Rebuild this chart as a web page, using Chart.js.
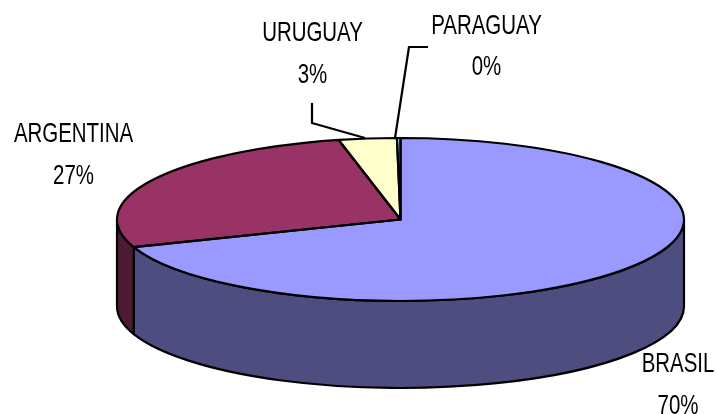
<!DOCTYPE html>
<html>
<head>
<meta charset="utf-8">
<style>html,body{margin:0;padding:0;background:#fff}canvas{display:block}</style>
<script src="https://cdn.jsdelivr.net/npm/chart.js@4"></script>
</head>
<body>
<canvas id="c" width="716" height="414"></canvas>
<script>
const categories = ['BRASIL', 'ARGENTINA', 'URUGUAY', 'PARAGUAY'];
const shares = [69.5, 27.0, 3.3, 0.2];
const topColors = ['#9999FF', '#993366', '#FFFFCC', '#CCFFFF'];
const wallColors = ['#4D4D80', '#4D1A33', '#808066', '#668080'];
const labelSpots = [[678, 372, 414], [73.5, 142, 184], [312.5, 41, 83], [486.5, 34, 75]];
const leaders = [[[312, 103], [312, 123], [365, 138]], [[428, 47], [409, 47], [395, 138]]];

const cx = 400.5, cy = 219.5, rx = 283.5, ry = 81.5, depth = 87;
const ink = '#000';

const pie3d = {
  id: 'pie3d',
  beforeDatasetsDraw(chart) {
    const ctx = chart.ctx, arcs = chart.getDatasetMeta(0).data;
    ctx.save();
    ctx.lineWidth = 2.2; ctx.lineJoin = 'round'; ctx.strokeStyle = ink;
    const two = Math.PI * 2;
    arcs.forEach((arc, i) => {
      const s = ((arc.startAngle % two) + two) % two, e = s + (arc.endAngle - arc.startAngle);
      [0, two].forEach(off => {
        const a = Math.max(s, off), b = Math.min(e, off + Math.PI);
        if (b <= a) return;
        ctx.beginPath();
        ctx.ellipse(cx, cy, rx, ry, 0, a, b);
        ctx.ellipse(cx, cy + depth, rx, ry, 0, b, a, true);
        ctx.closePath();
        ctx.fillStyle = wallColors[i];
        ctx.fill();
        ctx.stroke();
      });
    });
    ctx.restore();
    const r = arcs[0].outerRadius;
    ctx.save();
    ctx.translate(cx, cy);
    ctx.scale(rx / r, ry / r);
    ctx.translate(-arcs[0].x, -arcs[0].y);
  },
  afterDatasetsDraw(chart) {
    const ctx = chart.ctx, arcs = chart.getDatasetMeta(0).data;
    ctx.restore();
    ctx.save();
    ctx.lineWidth = 2.2; ctx.lineJoin = 'round'; ctx.strokeStyle = ink;
    arcs.forEach(arc => {
      ctx.beginPath();
      ctx.moveTo(cx, cy);
      ctx.ellipse(cx, cy, rx, ry, 0, arc.startAngle, arc.endAngle);
      ctx.closePath();
      ctx.stroke();
    });
    leaders.forEach(pts => {
      ctx.beginPath();
      pts.forEach((p, i) => i ? ctx.lineTo(p[0], p[1]) : ctx.moveTo(p[0], p[1]));
      ctx.stroke();
    });
    ctx.fillStyle = ink;
    ctx.font = '28px "Liberation Sans", Arial, sans-serif';
    ctx.textAlign = 'center';
    ctx.textBaseline = 'alphabetic';
    const total = shares.reduce((p, v) => p + v, 0);
    categories.forEach((name, i) => {
      const [x, y1, y2] = labelSpots[i];
      stretched(ctx, name, x, y1);
      stretched(ctx, Math.round(shares[i] / total * 100) + '%', x, y2);
    });
    ctx.restore();
  }
};
function stretched(ctx, text, x, y) {
  ctx.save();
  ctx.translate(x, y);
  ctx.scale(0.73, 1);
  ctx.fillText(text, 0, 0);
  ctx.restore();
}

new Chart(document.getElementById('c'), {
  type: 'pie',
  data: {
    labels: categories,
    datasets: [{ data: shares, backgroundColor: topColors, borderWidth: 0, clip: false }]
  },
  options: {
    responsive: false,
    animation: false,
    plugins: { legend: { display: false }, tooltip: { enabled: false } }
  },
  plugins: [pie3d]
});
</script>
</body>
</html>
